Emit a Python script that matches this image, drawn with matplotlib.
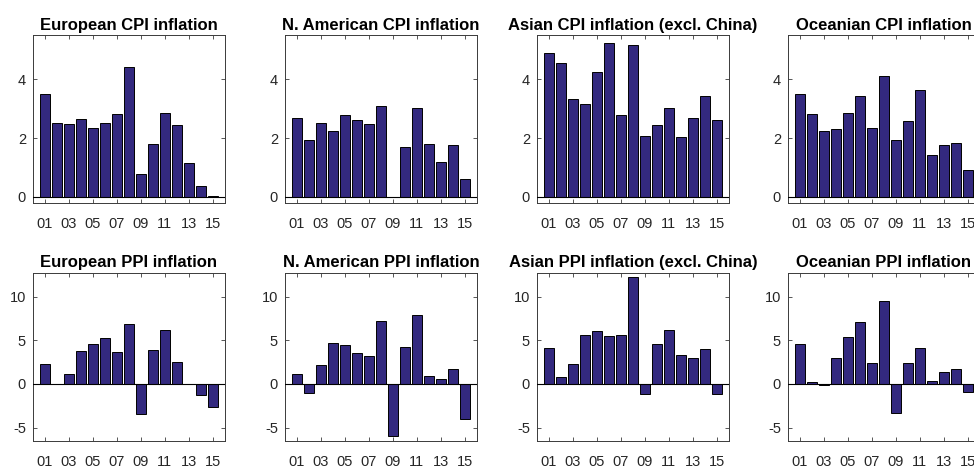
import numpy as np
import matplotlib.pyplot as plt

# --- Data (annual inflation, %, years 2001-2015) ---
years = np.arange(1, 16)
tick_years = np.arange(1, 16, 2)
tick_labels = [f"{y:02d}" for y in tick_years]

eu_cpi = [3.52, 2.53, 2.47, 2.66, 2.35, 2.53, 2.82, 4.42, 0.77, 1.80, 2.85, 2.46, 1.15, 0.37, 0.04]
na_cpi = [2.67, 1.92, 2.51, 2.25, 2.78, 2.61, 2.49, 3.08, 0.0, 1.70, 3.02, 1.79, 1.20, 1.75, 0.61]
as_cpi = [4.92, 4.57, 3.32, 3.18, 4.27, 5.24, 2.78, 5.16, 2.09, 2.45, 3.03, 2.03, 2.67, 3.45, 2.63]
oc_cpi = [3.52, 2.82, 2.23, 2.30, 2.85, 3.44, 2.35, 4.13, 1.94, 2.59, 3.65, 1.41, 1.78, 1.85, 0.91]

eu_ppi = [2.33, 0.05, 1.15, 3.78, 4.54, 5.23, 3.63, 6.83, -3.44, 3.89, 6.15, 2.52, -0.05, -1.30, -2.60]
na_ppi = [1.11, -1.07, 2.14, 4.73, 4.47, 3.55, 3.21, 7.18, -5.99, 4.20, 7.86, 0.92, 0.57, 1.76, -4.05]
as_ppi = [4.08, 0.84, 2.25, 5.61, 6.03, 5.46, 5.65, 12.29, -1.11, 4.54, 6.15, 3.28, 3.02, 4.05, -1.15]
oc_ppi = [4.58, 0.23, -0.15, 2.98, 5.34, 7.06, 2.44, 9.50, -3.32, 2.37, 4.08, 0.31, 1.34, 1.68, -0.95]

cpi_titles = ["European CPI inflation", "N. American CPI inflation",
              "Asian CPI inflation (excl. China)", "Oceanian CPI inflation"]
ppi_titles = ["European PPI inflation", "N. American PPI inflation",
              "Asian PPI inflation (excl. China)", "Oceanian PPI inflation"]

plt.rcParams['font.family'] = ['Liberation Sans', 'DejaVu Sans']

bar_color = '#33297f'
axis_color = '#3a3a3a'

fig = plt.figure(figsize=(9.74, 4.67), dpi=100)

# last column runs past the right edge, as in the original cropped figure
col_left = [0.0339, 0.2926, 0.5513, 0.8090]
col_width = 0.197
rows = [
    (0.566, 0.358, [eu_cpi, na_cpi, as_cpi, oc_cpi], cpi_titles, (-0.2, 5.5), [0, 2, 4]),
    (0.0563, 0.360, [eu_ppi, na_ppi, as_ppi, oc_ppi], ppi_titles, (-6.5, 12.75), [-5, 0, 5, 10]),
]

for bottom, height, series, titles, ylim, yticks in rows:
    for left, values, title in zip(col_left, series, titles):
        ax = fig.add_axes([left, bottom, col_width, height])
        ax.bar(years, values, width=0.8, color=bar_color, edgecolor='black', linewidth=0.7, zorder=2)
        ax.axhline(0, color='black', linewidth=0.8, zorder=3)
        ax.set_xlim(0, 16)
        ax.set_ylim(*ylim)
        ax.set_xticks(tick_years)
        ax.set_xticklabels(tick_labels)
        ax.set_yticks(yticks)
        ax.set_yticklabels([str(t) for t in yticks])
        ax.tick_params(direction='in', length=3, width=0.6, top=True, right=True,
                       labelsize=10.5, colors=axis_color, labelcolor='#262626', pad=5)
        ax.tick_params(axis='x', pad=10)
        for s in ax.spines.values():
            s.set_color(axis_color)
            s.set_linewidth(0.7)
        ax.set_title(title, fontsize=12, fontweight='bold', pad=4)

fig.savefig("out.png", dpi=100)
